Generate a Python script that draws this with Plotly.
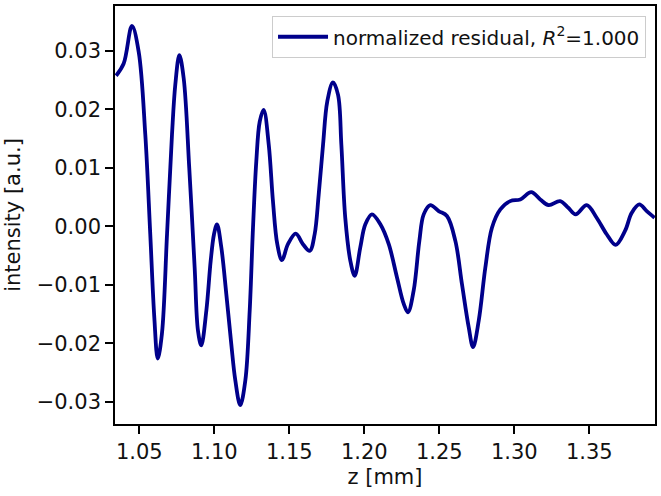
import plotly.graph_objects as go

z_mm = [1.0345, 1.0396, 1.0451, 1.0496, 1.0540, 1.0573, 1.0600, 1.0623, 1.0651, 1.0685,
        1.0718, 1.0740, 1.0767, 1.0796, 1.0833, 1.0869, 1.0891,
        1.0913, 1.0947, 1.0976, 1.0998, 1.1018, 1.1047, 1.1080, 1.1113, 1.1140, 1.1173,
        1.1207, 1.1236, 1.1258, 1.1280, 1.1303, 1.1329, 1.1363, 1.1391, 1.1420, 1.1451,
        1.1491, 1.1543, 1.1591, 1.1636, 1.1669, 1.1696, 1.1725, 1.1753, 1.1791, 1.1825, 1.1847,
        1.1873, 1.1907, 1.1936, 1.1973, 1.2007,
        1.2051, 1.2107, 1.2163, 1.2218, 1.2263, 1.2291, 1.2329, 1.2367, 1.2396, 1.2440,
        1.2496, 1.2551, 1.2607, 1.2651, 1.2696, 1.2725, 1.2763, 1.2807, 1.2851, 1.2907,
        1.2973, 1.3040, 1.3113, 1.3173, 1.3229, 1.3305, 1.3360, 1.3409, 1.3483, 1.3549,
        1.3616, 1.3676, 1.3738, 1.3783, 1.3833, 1.3883, 1.3935]

residual = [0.02574, 0.02783, 0.03425, 0.02982, 0.01565, -0.00131, -0.01555, -0.02263, -0.01832, -0.00131,
            0.01570, 0.02421, 0.02926, 0.02528, 0.00997, -0.00704, -0.01781,
            -0.02036, -0.01441, -0.00590, -0.00136, 0.00034, -0.00364, -0.01157, -0.02007, -0.02632, -0.03057,
            -0.02632, -0.01441, -0.00024, 0.01111, 0.01791, 0.01990, 0.01395, 0.00430, -0.00306, -0.00578,
            -0.00306, -0.00126, -0.00306, -0.00420, -0.00136, 0.00544, 0.01395, 0.02132, 0.02460, 0.02246, 0.01395,
            0.00146, -0.00590, -0.00846, -0.00364, 0.00034,
            0.00204, 0.00034, -0.00306, -0.00874, -0.01327, -0.01470, -0.01101, -0.00250, 0.00204, 0.00362,
            0.00260, 0.00175, -0.00250, -0.00987, -0.01725, -0.02065, -0.01611, -0.00704, -0.00024, 0.00289,
            0.00430, 0.00459, 0.00584, 0.00459, 0.00362, 0.00430, 0.00316, 0.00204, 0.00362, 0.00146,
            -0.00136, -0.00318, -0.00080, 0.00231, 0.00374, 0.00260, 0.00146]

x_ticks = [1.05, 1.10, 1.15, 1.20, 1.25, 1.30, 1.35]
y_ticks = [-0.03, -0.02, -0.01, 0.00, 0.01, 0.02, 0.03]

legend_name = "normalized residual, <i>R</i><sup>2</sup>=1.000"

FONT = "DejaVu Sans"

fig = go.Figure()
fig.add_trace(go.Scatter(
    x=z_mm, y=residual, mode="lines",
    line=dict(color="#00008B", width=3.8, shape="spline", smoothing=1.0),
    name=legend_name, showlegend=True,
))

axis_common = dict(
    showgrid=False, zeroline=False, showline=True, linecolor="black", linewidth=1.6,
    mirror=True, ticks="outside", ticklen=8, tickwidth=1.5, tickcolor="black",
    tickfont=dict(family=FONT, size=21, color="#111111"),
)

fig.update_layout(
    width=661, height=496,
    margin=dict(l=115, r=6, t=4, b=72),
    paper_bgcolor="white", plot_bgcolor="white",
    font=dict(family=FONT, size=21, color="#111111"),
    xaxis=dict(range=[1.0338, 1.3938], tickvals=x_ticks, tickformat=".2f",
               title=dict(text="z [mm]", font=dict(family=FONT, size=21), standoff=6),
               **axis_common),
    yaxis=dict(range=[-0.03379, 0.03765], tickvals=y_ticks, tickformat=".2f",
               title=dict(text="intensity [a.u.]", font=dict(family=FONT, size=21), standoff=10),
               **axis_common),
    legend=dict(x=0.983, y=0.976, xanchor="right", yanchor="top", itemwidth=50,
                bgcolor="rgba(255,255,255,0.8)", bordercolor="#cccccc", borderwidth=1.2,
                font=dict(family=FONT, size=20, color="#111111")),
)

fig.write_html("out.html")
